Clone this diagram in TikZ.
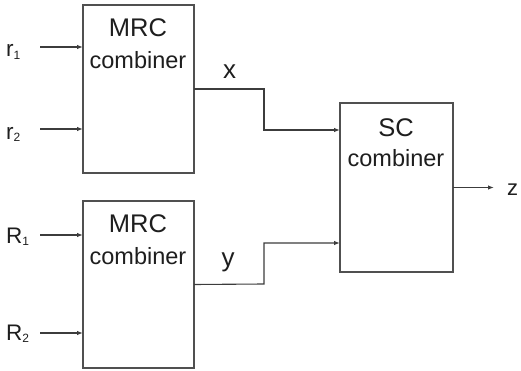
\documentclass[tikz,border=0pt]{standalone}
\usepackage{fontspec}
\setmainfont{Liberation Sans}
\usetikzlibrary{arrows.meta}
\definecolor{ln}{HTML}{3C3C3C}
\definecolor{bx}{HTML}{505050}
\definecolor{tx}{HTML}{1E1E1E}
\tikzset{
  blockbox/.style={draw=bx, line width=1.4pt, fill=white, inner sep=0pt, outer sep=0pt},
  arr/.style={draw=ln, line width=1.1pt, -{Latex[length=6pt,width=4.5pt]}},
  wire/.style={draw=ln, line width=1.1pt},
  ttl/.style={text=tx, inner sep=0pt, font=\fontsize{25.5}{25.5}\selectfont},
  sub/.style={text=tx, inner sep=0pt, font=\fontsize{23.5}{23.5}\selectfont},
  inlab/.style={text=tx, inner sep=0pt, anchor=base west, font=\fontsize{22.5}{22.5}\selectfont},
  sig/.style={text=tx, inner sep=0pt, anchor=base, font=\fontsize{26}{26}\selectfont},
}
\newcommand{\mysub}[1]{\raisebox{-2.5pt}{\fontsize{12}{12}\selectfont #1}}
\begin{document}
\begin{tikzpicture}[x=1pt,y=-1pt]
\useasboundingbox (0,0) rectangle (521,371);
% blocks
\node[blockbox, minimum width=111pt, minimum height=168pt] (m1) at (138.5,89) {};
\node[blockbox, minimum width=111pt, minimum height=167pt] (m2) at (138.5,284.5) {};
\node[blockbox, minimum width=113pt, minimum height=169pt] (sc) at (396.5,187.5) {};
% block texts
\node[ttl] (m1a) at (138,28) {MRC};
\node[sub] (m1b) at (138,60) {combiner};
\node[ttl] (m2a) at (138,224) {MRC};
\node[sub] (m2b) at (138,256) {combiner};
\node[ttl] (sca) at (396,128) {SC};
\node[sub] (scb) at (396,158) {combiner};
% inputs
\coordinate (i1) at (40,47);
\coordinate (i2) at (40,129);
\coordinate (i3) at (40,235);
\coordinate (i4) at (40,333);
\node[inlab] (l1) at (6,57) {r\mysub{1}};
\node[inlab] (l2) at (6,139.5) {r\mysub{2}};
\node[inlab] (l3) at (6,243) {R\mysub{1}};
\node[inlab] (l4) at (6,340) {R\mysub{2}};
\draw[arr] (i1) -- (m1.west |- i1);
\draw[arr] (i2) -- (m1.west |- i2);
\draw[arr] (i3) -- (m2.west |- i3);
\draw[arr] (i4) -- (m2.west |- i4);
% combiner outputs
\coordinate (xb) at (264,89);
\coordinate (yb) at (264,284);
\coordinate (s1) at (340,130);
\coordinate (s2) at (340,243);
\draw[arr] (m1.east) -- (xb) |- (sc.west |- s1);
\draw[arr] (m2.east) -- (yb) |- (sc.west |- s2);
\node[sig] (xl) at (229.5,79) {x};
\node[sig] (yl) at (228,266) {y};
% output
\coordinate (zo) at (494,187.5);
\draw[arr] (sc.east) -- (zo);
\node[text=tx, inner sep=0pt, anchor=base west, font=\fontsize{22}{22}\selectfont] (zl) at (507,195.5) {z};
\end{tikzpicture}
\end{document}
